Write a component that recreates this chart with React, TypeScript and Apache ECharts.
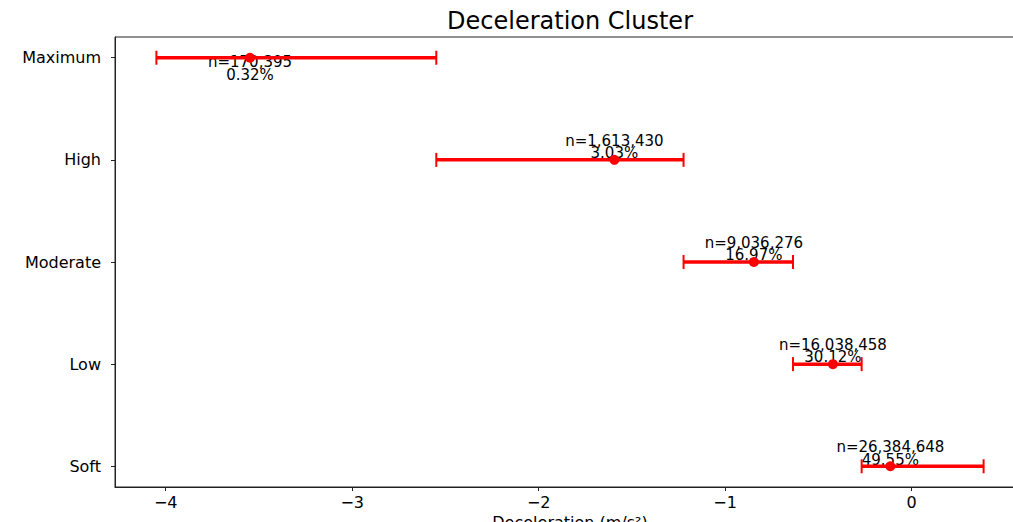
import React, { useEffect, useRef } from "react";
import * as echarts from "echarts";

const categories = ["Maximum", "High", "Moderate", "Low", "Soft"];
const means = [-3.548, -1.594, -0.846, -0.422, -0.114];
const lowers = [-4.05, -2.549, -1.223, -0.636, -0.268];
const uppers = [-2.549, -1.223, -0.636, -0.268, 0.386];
const counts = [170395, 1613430, 9036276, 16038458, 26384648];
const percents = [0.32, 3.03, 16.97, 30.12, 49.55];
const xTicks = [-4, -3, -2, -1, 0];
const yTicks = [0, 1, 2, 3, 4];

const FONT = "DejaVu Sans";
const RED = "#ff0000";

export default function App() {
  const ref = useRef<HTMLDivElement>(null);
  useEffect(() => {
    if (!ref.current) return;
    const chart = echarts.init(ref.current, null, { renderer: "svg" });
    const data = categories.map((c, i) => [i, lowers[i], uppers[i], means[i], counts[i], percents[i]]);
    chart.setOption({
      animation: false,
      backgroundColor: "#ffffff",
      title: {
        text: "Deceleration Cluster",
        left: 570,
        textAlign: "center",
        top: 9,
        padding: 0,
        textStyle: { fontFamily: FONT, fontSize: 24, fontWeight: "normal", color: "#000" },
      },
      grid: {
        left: 115,
        top: 37,
        width: 910,
        height: 450,
        outerBoundsMode: "none",
        containLabel: false,
        show: true,
        borderColor: "#222",
        borderWidth: 1,
        backgroundColor: "transparent",
      },
      xAxis: {
        type: "value",
        min: -4.272,
        max: 0.608,
        name: "Deceleration (m/s²)",
        nameLocation: "middle",
        nameGap: 24,
        nameTextStyle: { fontFamily: FONT, fontSize: 16, color: "#000" },
        axisLine: { show: true, onZero: false, lineStyle: { color: "#222", width: 1 } },
        axisTick: { show: true, length: 4, customValues: xTicks, lineStyle: { color: "#222" } },
        axisLabel: {
          customValues: xTicks,
          margin: 7,
          fontFamily: FONT,
          fontSize: 16,
          color: "#000",
          formatter: (v: number) => String(v).replace("-", "\u2212"),
        },
        splitLine: { show: false },
      },
      yAxis: {
        type: "value",
        min: -0.203,
        max: 4.203,
        inverse: true,
        axisLine: { show: true, onZero: false, lineStyle: { color: "#222", width: 1 } },
        axisTick: { show: true, length: 4, customValues: yTicks, lineStyle: { color: "#222" } },
        axisLabel: {
          customValues: yTicks,
          margin: 14,
          fontFamily: FONT,
          fontSize: 16,
          color: "#000",
          formatter: (v: number) => categories[Math.round(v)] ?? "",
        },
        splitLine: { show: false },
      },
      series: [
        {
          type: "custom",
          data,
          encode: { x: [1, 2, 3], y: 0 },
          renderItem: (params: any, api: any) => {
            const idx = api.value(0);
            const lo = api.coord([api.value(1), idx]);
            const hi = api.coord([api.value(2), idx]);
            const mid = api.coord([api.value(3), idx]);
            const y = lo[1];
            const cnt = Number(api.value(4)).toLocaleString("en-US");
            const pct = Number(api.value(5)).toFixed(2) + "%";
            const gridTop = params.coordSys.y;
            const lh = 12.5;
            let ty = y - 13;
            if (ty - lh < gridTop) ty = y + 10.7;
            const capH = 7;
            return {
              type: "group",
              children: [
                {
                  type: "text",
                  style: {
                    text: "n=" + cnt + "\n" + pct,
                    x: mid[0],
                    y: ty,
                    align: "center",
                    verticalAlign: "middle",
                    fontFamily: FONT,
                    fontSize: 15,
                    lineHeight: lh,
                    fill: "#000",
                  },
                },
                {
                  type: "line",
                  shape: { x1: lo[0], y1: y, x2: hi[0], y2: y },
                  style: { stroke: RED, lineWidth: 3.5 },
                },
                {
                  type: "line",
                  shape: { x1: lo[0], y1: y - capH, x2: lo[0], y2: y + capH },
                  style: { stroke: RED, lineWidth: 2 },
                },
                {
                  type: "line",
                  shape: { x1: hi[0], y1: y - capH, x2: hi[0], y2: y + capH },
                  style: { stroke: RED, lineWidth: 2 },
                },
                {
                  type: "circle",
                  shape: { cx: mid[0], cy: y, r: 5 },
                  style: { fill: RED },
                },
              ],
            };
          },
        },
      ],
    });
    return () => chart.dispose();
  }, []);
  return (
    <div
      ref={ref}
      style={{ position: "fixed", left: 0, top: 0, width: 1013, height: 522, background: "#fff" }}
    />
  );
}
